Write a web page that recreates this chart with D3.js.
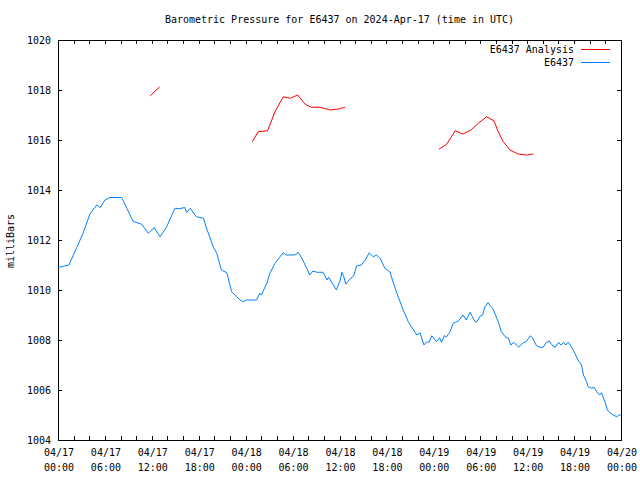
<!DOCTYPE html>
<html><head><meta charset="utf-8">
<script src="https://cdn.jsdelivr.net/npm/d3@7"></script>
<style>body{margin:0;background:#fff}svg{display:block}text{font-family:"DejaVu Sans Mono",monospace;font-size:10px;fill:#000}</style>
</head><body><div id="chart"></div>
<script>
// hours since 2024-04-17 00:00 UTC
const stationHours = [0,0.7,1.4,2.4,3.2,4.1,4.95,5.4,6.0,6.65,8.15,8.8,9.6,10.7,11.55,12.3,13.05,13.9,14.95,15.5,16.2,16.45,16.9,17.7,18.6,19.0,19.85,20.3,20.9,21.6,22.2,22.85,23.3,23.7,24.1,25.4,25.8,26.0,26.7,27.1,27.75,28.4,28.8,29.2,30.3,30.7,31.2,31.8,32.2,32.6,33.1,33.9,34.4,34.6,35.6,36.1,36.3,36.55,36.8,37.3,37.8,38.2,38.8,39.3,39.8,40.3,40.75,41.2,41.8,42.45,42.9,43.5,44.15,44.8,45.2,45.9,46.3,46.8,47.1,47.5,47.8,48.4,48.8,49.05,49.4,49.7,50.1,50.55,51.2,51.8,52.2,52.7,53.2,53.5,54.0,54.3,54.6,55.0,55.3,55.6,56.3,56.7,57.2,57.6,57.9,58.3,58.9,59.5,59.85,60.4,60.7,61.2,61.6,62.05,62.4,62.8,63.3,63.6,64.0,64.3,64.7,64.95,65.25,65.7,66.1,66.5,66.95,67.2,67.6,67.8,68.25,68.55,68.9,69.25,69.5,69.95,70.25,70.6,71.0,71.45,71.8,72.0];
const stationPressure = [1010.9,1010.95,1011.0,1011.7,1012.27,1013.05,1013.4,1013.3,1013.6,1013.7,1013.7,1013.27,1012.75,1012.63,1012.27,1012.49,1012.13,1012.53,1013.27,1013.25,1013.3,1013.1,1013.27,1012.93,1012.87,1012.47,1011.73,1011.47,1010.8,1010.69,1009.93,1009.73,1009.6,1009.53,1009.6,1009.6,1009.87,1009.8,1010.27,1010.67,1011.07,1011.33,1011.49,1011.4,1011.4,1011.51,1011.27,1010.87,1010.6,1010.76,1010.71,1010.71,1010.4,1010.51,1010.0,1010.4,1010.71,1010.53,1010.23,1010.43,1010.56,1010.96,1011.0,1011.2,1011.49,1011.33,1011.4,1011.27,1010.87,1010.73,1010.27,1009.73,1009.2,1008.73,1008.53,1008.2,1008.29,1007.8,1007.91,1007.93,1008.17,1007.93,1008.09,1007.91,1008.17,1008.13,1008.31,1008.67,1008.76,1009.0,1008.8,1009.11,1008.8,1008.71,1008.96,1009.0,1009.33,1009.49,1009.36,1009.27,1008.73,1008.33,1008.13,1008.07,1007.8,1007.91,1007.71,1007.89,1007.93,1008.17,1008.07,1007.77,1007.71,1007.71,1007.89,1007.96,1007.76,1007.71,1007.91,1007.8,1007.91,1007.8,1007.91,1007.71,1007.47,1007.2,1007.0,1006.6,1006.33,1006.13,1006.07,1006.11,1005.93,1005.8,1005.89,1005.53,1005.2,1005.09,1005.0,1004.93,1005.0,1005.0];
// analysis series, null marks a gap
const analysisHours = [11.8,13.0,null,24.85,25.6,26.8,27.75,28.8,29.7,30.65,31.6,32.4,33.5,34.8,35.85,36.7,null,48.7,49.7,50.8,51.75,52.7,53.75,54.8,55.75,56.3,56.95,57.8,58.85,59.9,60.8];
const analysisPressure = [1017.77,1018.13,null,1015.93,1016.33,1016.37,1017.13,1017.73,1017.67,1017.8,1017.43,1017.31,1017.31,1017.2,1017.24,1017.31,null,1015.63,1015.83,1016.37,1016.24,1016.37,1016.67,1016.93,1016.77,1016.33,1015.93,1015.6,1015.44,1015.4,1015.44];
const yTicks = [1004,1006,1008,1010,1012,1014,1016,1018,1020];
const seriesNames = ["E6437 Analysis","E6437"];
const titleText = "Barometric Pressure for E6437 on 2024-Apr-17 (time in UTC)";
const yLabel = "milliBars";

const W=640,H=480, L=58,R=621,T=40,B=440;
const t0 = Date.UTC(2024,3,17), t1 = Date.UTC(2024,3,20);
const toDate = h => new Date(t0 + h*3600e3);
const x = d3.scaleUtc().domain([new Date(t0), new Date(t1)]).range([L,R]);
const y = d3.scaleLinear().domain([1004,1020]).range([B,T]);

const svg = d3.select("#chart").append("svg").attr("width",W).attr("height",H);
svg.append("rect").attr("width",W).attr("height",H).attr("fill","#fff");

const tickTimes = d3.utcHour.every(2).range(new Date(t0), new Date(t1+1));
const labelTimes = d3.utcHour.every(6).range(new Date(t0), new Date(t1+1));

function styleAxis(g){ g.select(".domain").remove(); g.selectAll("line").attr("stroke","#000").attr("shape-rendering","crispEdges"); g.selectAll("text").remove(); }
svg.append("g").attr("transform",`translate(0,${B})`).call(d3.axisBottom(x).tickValues(tickTimes).tickSizeInner(-4).tickSizeOuter(0)).call(styleAxis);
svg.append("g").attr("transform",`translate(0,${T})`).call(d3.axisTop(x).tickValues(tickTimes).tickSizeInner(-4).tickSizeOuter(0)).call(styleAxis);
svg.append("g").attr("transform",`translate(${L},0)`).call(d3.axisLeft(y).tickValues(yTicks).tickSizeInner(-4).tickSizeOuter(0)).call(styleAxis);
svg.append("g").attr("transform",`translate(${R},0)`).call(d3.axisRight(y).tickValues(yTicks).tickSizeInner(-4).tickSizeOuter(0)).call(styleAxis);

svg.append("rect").attr("x",L+0.5).attr("y",T+0.5).attr("width",R-L).attr("height",B-T)
  .attr("fill","none").attr("stroke","#000").attr("stroke-width",1);

// y labels
svg.selectAll(".yl").data(yTicks).join("text").attr("class","yl")
  .attr("x",51).attr("y",d=>y(d)+4).attr("text-anchor","end").text(d=>d);
// x labels
const fmtD = d3.utcFormat("%m/%d"), fmtT = d3.utcFormat("%H:%M");
const xl = svg.selectAll(".xl").data(labelTimes).join("text").attr("class","xl").attr("text-anchor","middle");
xl.append("tspan").attr("x",d=>x(d)+1).attr("y",456).text(d=>fmtD(d));
xl.append("tspan").attr("x",d=>x(d)+1).attr("y",471).text(d=>fmtT(d));

svg.append("text").attr("x",(L+R)/2).attr("y",23).attr("text-anchor","middle").text(titleText);
svg.append("text").attr("transform","translate(14,241) rotate(-90)").attr("text-anchor","middle").text(yLabel);

const clip = svg.append("clipPath").attr("id","c").append("rect").attr("x",L).attr("y",T).attr("width",R-L+1).attr("height",B-T+1);

const blueData = stationHours.map((h,i)=>({t:toDate(h),p:stationPressure[i]}));
const redData = analysisHours.map((h,i)=>({t:h==null?null:toDate(h),p:analysisPressure[i]}));
const line = d3.line().defined(d=>d.t!=null&&d.p!=null).x(d=>x(d.t)).y(d=>y(d.p));

svg.append("path").datum(redData).attr("d",line).attr("fill","none").attr("stroke","#ff0000").attr("stroke-width",1).attr("clip-path","url(#c)");
svg.append("path").datum(blueData).attr("d",line).attr("fill","none").attr("stroke","#0080ff").attr("stroke-width",1).attr("clip-path","url(#c)");

// legend
const legColors=["#ff0000","#0080ff"];
seriesNames.forEach((n,i)=>{
  const yy = 49 + i*13;
  svg.append("text").attr("x",574).attr("y",yy+4).attr("text-anchor","end").text(n);
  svg.append("line").attr("x1",581).attr("x2",610).attr("y1",yy+0.5).attr("y2",yy+0.5).attr("stroke",legColors[i]).attr("stroke-width",1);
});
</script></body></html>
